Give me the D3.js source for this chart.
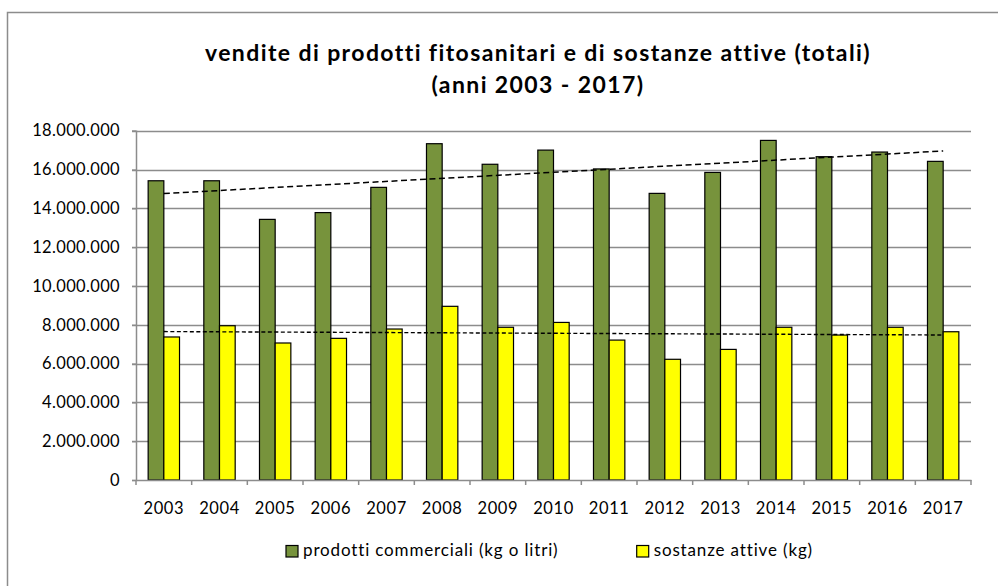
<!DOCTYPE html>
<html><head><meta charset="utf-8">
<script src="https://cdn.jsdelivr.net/npm/d3@7"></script>
<style>html,body{margin:0;padding:0;background:#fff;}svg{display:block;}</style>
</head><body>
<svg id="c" width="998" height="586"></svg>
<script>
const years = ["2003","2004","2005","2006","2007","2008","2009","2010","2011","2012","2013","2014","2015","2016","2017"];
const prodotti = [15420000,15420000,13430000,13780000,15080000,17330000,16270000,17000000,16030000,14770000,15850000,17500000,16660000,16900000,16420000];
const sostanze = [7370000,7950000,7060000,7300000,7780000,8950000,7870000,8120000,7210000,6220000,6730000,7870000,7470000,7870000,7640000];
const yTicks = [0,2000000,4000000,6000000,8000000,10000000,12000000,14000000,16000000,18000000];
const seriesNames = ["prodotti commerciali (kg o litri)","sostanze attive (kg)"];
const titleLines = ["vendite di prodotti fitosanitari e di sostanze attive (totali)","(anni 2003 - 2017)"];

const FONT = "Lato, 'Open Sans', sans-serif";
const colors = ["#77933C","#FFFF00"];
const svg = d3.select("#c");

// outer frame
svg.append("path").attr("d","M7.5,600 V12.5 H1010").attr("fill","none").attr("stroke","#8c8c8c").attr("stroke-width",1.5);

const L=136, R=971, T=130.7, B=480;
const x = d3.scaleBand().domain(years).range([L,R]).paddingInner(0).paddingOuter(0);
const y = d3.scaleLinear().domain([0,18000000]).range([B,T]);
const inner = d3.scaleBand().domain([0,1]).range([0,x.bandwidth()]).paddingInner(0).paddingOuter(0.775);

// gridlines
svg.append("g").selectAll("line").data(yTicks.slice(1)).join("line")
  .attr("x1",L-4).attr("x2",R).attr("y1",d=>Math.round(y(d))+0.5).attr("y2",d=>Math.round(y(d))+0.5)
  .attr("stroke","#8c8c8c").attr("stroke-width",1.3);

// y axis
const fmt = d => d3.format(",")(d).replace(/,/g,".");
const ya = svg.append("g").attr("transform",`translate(${L},0)`)
  .call(d3.axisLeft(y).tickValues(yTicks).tickFormat(fmt).tickSize(4).tickPadding(12));
ya.select(".domain").attr("stroke","#8c8c8c").attr("stroke-width",1.5);
ya.selectAll(".tick line").attr("stroke","#8c8c8c").attr("stroke-width",1.3);
ya.selectAll("text").attr("font-family",FONT).attr("font-size",16.5).attr("letter-spacing","0.35px").attr("fill","#000");

// bars
const groups = [prodotti,sostanze];
groups.forEach((vals,si)=>{
  svg.append("g").selectAll("rect").data(vals).join("rect")
    .attr("x",(d,i)=>x(years[i])+inner(si))
    .attr("y",d=>y(d))
    .attr("width",inner.bandwidth())
    .attr("height",d=>B-y(d))
    .attr("fill",colors[si]).attr("stroke","#000").attr("stroke-width",1.2);
});

// x axis
const xa = svg.append("g").attr("transform",`translate(0,${B})`)
  .call(d3.axisBottom(x).tickSize(0).tickPadding(22));
xa.select(".domain").attr("stroke","#8c8c8c").attr("stroke-width",1.5);
xa.selectAll("text").attr("font-family",FONT).attr("font-size",16.5).attr("letter-spacing","0.6px").attr("fill","#000");
svg.append("g").selectAll("line").data(d3.range(years.length+1)).join("line")
  .attr("x1",i=>L+i*x.step()).attr("x2",i=>L+i*x.step()).attr("y1",B).attr("y2",B+5)
  .attr("stroke","#8c8c8c").attr("stroke-width",1.5);

// linear trendlines
function trend(vals){
  const n=vals.length, mx=(n-1)/2, my=d3.mean(vals);
  let sxy=0,sxx=0; vals.forEach((v,i)=>{sxy+=(i-mx)*(v-my); sxx+=(i-mx)*(i-mx);});
  const b=sxy/sxx, a=my-b*mx;
  return [[0,a],[n-1,a+b*(n-1)]];
}
const cx = i => x(years[i])+x.bandwidth()/2;
const line = d3.line().x(d=>cx(d[0])).y(d=>y(d[1]));
svg.append("path").attr("d",line(trend(prodotti))).attr("fill","none").attr("stroke","#000").attr("stroke-width",1.5).attr("stroke-dasharray","6,3.5");
svg.append("path").attr("d",line(trend(sostanze))).attr("fill","none").attr("stroke","#000").attr("stroke-width",1.4).attr("stroke-dasharray","4,2.5");

// title
svg.append("g").selectAll("text").data(titleLines).join("text")
  .attr("x",538).attr("y",(d,i)=>61+i*31.5).attr("text-anchor","middle")
  .attr("font-family",FONT).attr("font-weight","bold").attr("font-size",23).attr("letter-spacing","1.4px").attr("fill","#000").text(d=>d);

// legend
const legX=[286,636.7];
const lg = svg.append("g").selectAll("g").data(seriesNames).join("g").attr("transform",(d,i)=>`translate(${legX[i]},545.5)`);
lg.append("rect").attr("width",12).attr("height",11.5).attr("fill",(d,i)=>colors[i]).attr("stroke","#000").attr("stroke-width",1.2);
lg.append("text").attr("x",17).attr("y",10.5).attr("font-family",FONT).attr("font-size",17).attr("letter-spacing","0.85px").attr("fill","#000").text(d=>d);
</script>
</body></html>
